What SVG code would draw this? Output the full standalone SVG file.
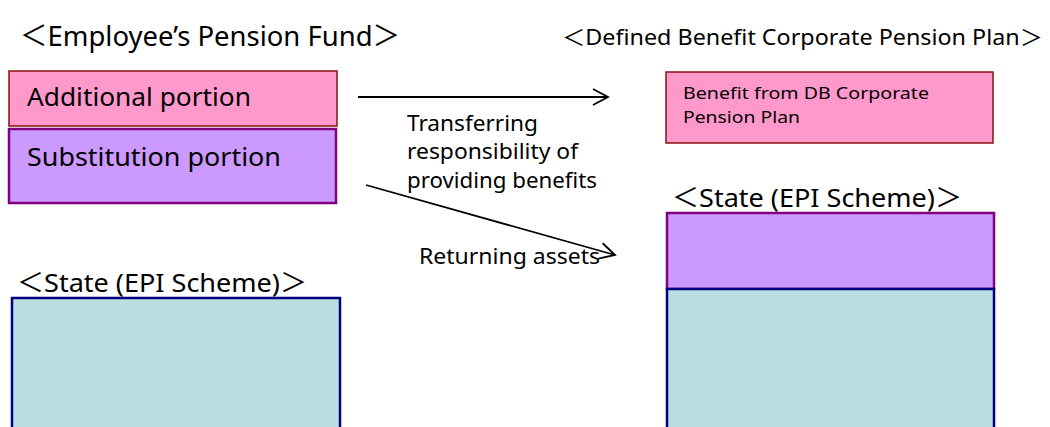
<svg xmlns="http://www.w3.org/2000/svg" width="1050" height="427" viewBox="0 0 1050 427">
  <defs>
    <style>
      .t { font-family: "Noto Sans", "Liberation Sans", "Noto Sans CJK JP", sans-serif; fill: #000; }
      .add { fill: #FF99CC; stroke: #8B1010; stroke-width: 1.5; }
      .sub { fill: #CC99FF; stroke: #800080; stroke-width: 2.5; }
      .epi { fill: #BADFE3; stroke: #000080; stroke-width: 2.5; }
      .link { fill: none; stroke: #000; stroke-width: 1.8; marker-end: url(#open-arrow); }
    </style>
    <marker id="open-arrow" markerUnits="userSpaceOnUse" viewBox="-17 -10 20 20" markerWidth="20" markerHeight="20" refX="0" refY="0" orient="auto">
      <path d="M-15,-8 L0,0 L-15,8" fill="none" stroke="#000" stroke-width="1.8"/>
    </marker>
  </defs>

  <rect width="1050" height="427" fill="#fff"/>

  <!-- section headings -->
  <g id="heading-epf">
    <text class="t" x="20" y="46" font-size="28" textLength="380" lengthAdjust="spacingAndGlyphs">＜Employee’s Pension Fund＞</text>
  </g>
  <g id="heading-db">
    <text class="t" x="562" y="45" font-size="22" textLength="481" lengthAdjust="spacingAndGlyphs">＜Defined Benefit Corporate Pension Plan＞</text>
  </g>

  <!-- Employee's Pension Fund side -->
  <g id="additional-portion">
    <rect class="add" x="9" y="71" width="328" height="55"/>
    <text class="t" x="27" y="106" font-size="26" textLength="224" lengthAdjust="spacingAndGlyphs">Additional portion</text>
  </g>
  <g id="substitution-portion">
    <rect class="sub" x="9" y="129" width="327" height="74"/>
    <text class="t" x="27" y="166" font-size="26" textLength="254" lengthAdjust="spacingAndGlyphs">Substitution portion</text>
  </g>
  <g id="state-left">
    <text class="t" x="17" y="292" font-size="26" textLength="290" lengthAdjust="spacingAndGlyphs">＜State (EPI Scheme)＞</text>
    <rect class="epi" x="12" y="298" width="328" height="140"/>
  </g>

  <!-- Defined Benefit Corporate Pension Plan side -->
  <g id="db-benefit">
    <rect class="add" x="666" y="72" width="327" height="71"/>
    <text class="t" x="683" y="99" font-size="17" textLength="246" lengthAdjust="spacingAndGlyphs">Benefit from DB Corporate</text>
    <text class="t" x="683" y="123" font-size="17" textLength="117" lengthAdjust="spacingAndGlyphs">Pension Plan</text>
  </g>
  <g id="state-right">
    <text class="t" x="672" y="207" font-size="26" textLength="290" lengthAdjust="spacingAndGlyphs">＜State (EPI Scheme)＞</text>
    <rect class="sub" x="667" y="213" width="327" height="76"/>
    <rect class="epi" x="667" y="289" width="327" height="150"/>
  </g>

  <!-- connectors -->
  <g id="connectors">
    <line class="link" x1="358" y1="97" x2="608" y2="97"/>
    <text class="t" font-size="22">
      <tspan x="407" y="131" textLength="131" lengthAdjust="spacingAndGlyphs">Transferring</tspan>
      <tspan x="407" y="159" textLength="171" lengthAdjust="spacingAndGlyphs">responsibility of</tspan>
      <tspan x="407" y="188" textLength="190" lengthAdjust="spacingAndGlyphs">providing benefits</tspan>
    </text>
    <line class="link" x1="366" y1="185" x2="615" y2="255"/>
    <text class="t" x="419" y="264" font-size="22" textLength="181" lengthAdjust="spacingAndGlyphs">Returning assets</text>
  </g>
</svg>
